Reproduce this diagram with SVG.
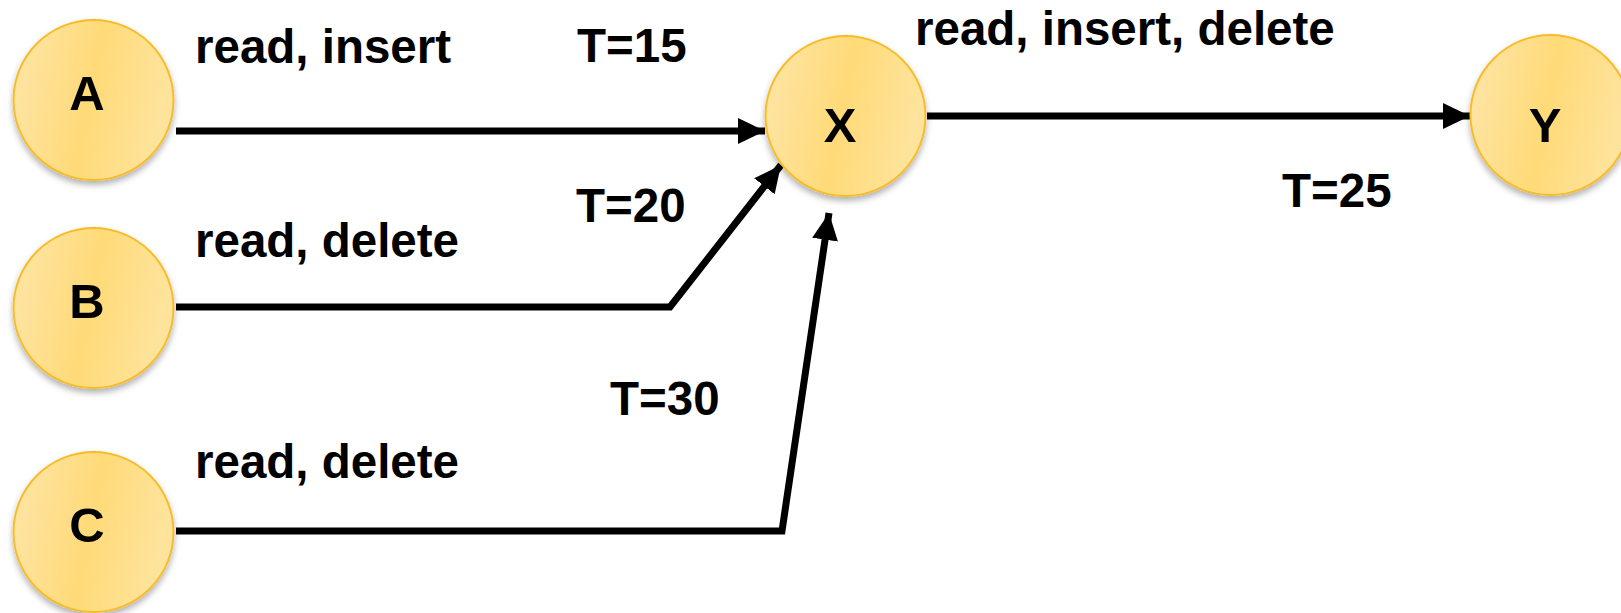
<svg xmlns="http://www.w3.org/2000/svg" width="1621" height="613" viewBox="0 0 1621 613">
<style>
.node circle{fill:url(#g);stroke:#F8BC2A;stroke-width:2;filter:url(#sh)}
.node text{font-family:"Liberation Sans",Arial,sans-serif;font-weight:bold;font-size:49px;text-anchor:middle;fill:#000}
.lbl{font-family:"Liberation Sans",Arial,sans-serif;font-weight:bold;font-size:47.5px;fill:#000}
.conn path{fill:none;stroke:#000;stroke-width:7;marker-end:url(#ah)}
</style>
<defs>
<linearGradient id="g" x1="0" y1="0" x2="1" y2="0.2">
<stop offset="0" stop-color="#FEE6AA"/>
<stop offset="0.55" stop-color="#FFDA78"/>
<stop offset="1" stop-color="#FEE39C"/>
</linearGradient>
<filter id="sh" x="-20%" y="-20%" width="140%" height="150%">
<feDropShadow dx="0" dy="4" stdDeviation="3" flood-color="#000" flood-opacity="0.3"/>
</filter>
<marker id="ah" markerUnits="userSpaceOnUse" markerWidth="30" markerHeight="28" refX="27" refY="13" orient="auto">
<path d="M0,0 L27,13 L0,26 Z" fill="#000"/>
</marker>
</defs>
<g class="conn">
<path d="M176,131 L765,131"/>
<path d="M176,307 L670,307 L781,165"/>
<path d="M176,531 L782,531 L829,213"/>
<path d="M927,116 L1470,116"/>
</g>
<g id="A" class="node"><circle cx="93.5" cy="100" r="80"/><text x="87" y="110">A</text></g>
<g id="B" class="node"><circle cx="93.5" cy="308" r="80"/><text x="87" y="318">B</text></g>
<g id="C" class="node"><circle cx="93.5" cy="532" r="80"/><text x="87" y="542">C</text></g>
<g id="X" class="node"><circle cx="845.5" cy="116" r="80"/><text x="840" y="142">X</text></g>
<g id="Y" class="node"><circle cx="1550.5" cy="115" r="80"/><text x="1545" y="142">Y</text></g>
<g id="labels">
<text class="lbl" x="195" y="63">read, insert</text>
<text class="lbl" x="577" y="62">T=15</text>
<text class="lbl" x="915" y="45">read, insert, delete</text>
<text class="lbl" x="1282" y="207">T=25</text>
<text class="lbl" x="576" y="222">T=20</text>
<text class="lbl" x="195" y="257">read, delete</text>
<text class="lbl" x="610" y="415">T=30</text>
<text class="lbl" x="195" y="478">read, delete</text>
</g>
</svg>
